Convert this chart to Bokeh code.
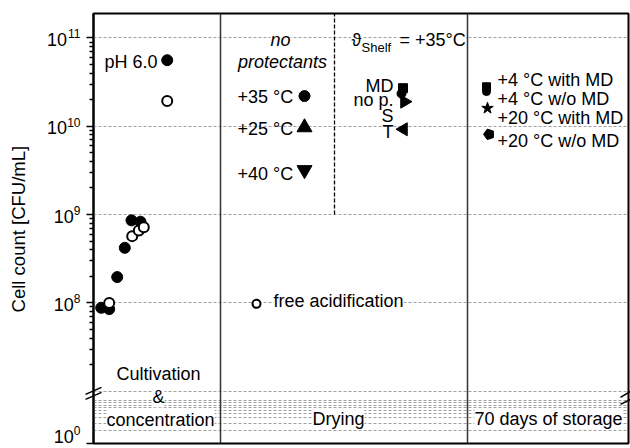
import numpy as np
from bokeh.plotting import figure
from bokeh.models import Range1d, FixedTicker, Label, Span, CustomJSTickFormatter
from bokeh.core.properties import value
from bokeh.embed import file_html
from bokeh.resources import INLINE

# ---------------- data (cell count, CFU/mL) ----------------
cult_x_filled = [7.7, 15.7, 23.7, 31.3, 38.0, 47.0]
cult_filled = [8.8e7, 8.5e7, 1.96e8, 4.2e8, 8.6e8, 8.3e8]
cult_x_open = [15.7, 38.7, 45.3, 50.3]
cult_open = [1.0e8, 5.7e8, 6.6e8, 7.2e8]
ph6_x = [73.7]
ph6_filled = [5.6e10]
ph6_open = [1.93e10]

dry_x = [211.0]
dry_35 = [2.2e10]
dry_25 = [9.7e9]
dry_40 = [3.2e9]
free_acid_x = [163.0]
free_acid = [9.75e7]

shelf_x_md = [309.5]
shelf_md = [2.7e10]
shelf_x_nop = [308.0]
shelf_nop = [2.34e10]
shelf_x_s = [311.0]
shelf_s = [1.9e10]
shelf_x_t = [310.0]
shelf_t = [9.25e9]

stor_x_4md = [393.0]
stor_4md = [2.8e10]
stor_x_4wo = [393.0]
stor_4wo = [2.47e10]
stor_x_20md = [394.0]
stor_20md = [1.6e10]
stor_x_20wo = [395.5]
stor_20wo = [8.1e9]

ytick_exps = [0, 8, 9, 10, 11]
y_title = "Cell count [CFU/mL]"
section_titles = ["Cultivation", "&", "concentration", "Drying", "70 days of storage"]
drying_labels = ["+35 °C", "+25 °C", "+40 °C"]
shelf_labels = ["MD", "no p.", "S", "T"]
storage_labels = ["+4 °C with MD", "+4 °C w/o MD", "+20 °C with MD", "+20 °C w/o MD"]

# ---------------- broken log axis transform ----------------
DEC_LOW = 42.5 / 88.1      # height of compressed lower decade (in upper-decade units)
T_ONE = 6.890              # position of 10^1 in the lower segment
T0 = T_ONE - DEC_LOW       # position of 10^0
T_TOP = 11.277


def ty(v):
    l = np.log10(np.asarray(v, dtype=float))
    return np.where(l >= 7, l, T_ONE - (1 - l) * DEC_LOW)


FONT = "Liberation Sans"

p = figure(width=630, height=448, output_backend="svg", toolbar_location=None,
           x_range=Range1d(0, 535), y_range=Range1d(T0, T_TOP),
           x_axis_location=None, y_axis_location="left",
           min_border_left=93, min_border_right=2, min_border_top=13, min_border_bottom=5)
p.background_fill_color = "white"
p.border_fill_color = "white"
p.outline_line_color = "black"
p.outline_line_width = 2

# y axis ticks
major_t = [float(ty(10.0 ** e)) for e in ytick_exps]
minor_t = [float(ty(k * 10.0 ** d)) for d in range(7, 11) for k in range(2, 10)]
minor_t = [m for m in minor_t if m < T_TOP]
ax = p.yaxis[0]
ax.ticker = FixedTicker(ticks=major_t, minor_ticks=minor_t)
ax.formatter = CustomJSTickFormatter(code="return ''")
ax.axis_line_width = 2
ax.axis_line_color = "black"
ax.major_tick_in = 0
ax.major_tick_out = 7
ax.minor_tick_in = 0
ax.minor_tick_out = 4
ax.major_tick_line_width = 1.5
ax.minor_tick_line_width = 1.5
ax.major_tick_line_color = "black"
ax.minor_tick_line_color = "black"

# grid
grid_t = [float(ty(10.0 ** d)) for d in range(7, 12)] + \
         [float(ty(k * 10.0 ** d)) for d in range(0, 1) for k in range(1, 11)]
p.xgrid.visible = False
p.ygrid.ticker = FixedTicker(ticks=grid_t)
p.ygrid.grid_line_color = "#a0a0a0"
p.ygrid.grid_line_dash = "3 2"
p.ygrid.grid_line_width = 1

# section separators
for xs in [127, 374]:
    p.add_layout(Span(location=xs, dimension="height", line_color="#333333", line_width=1.5))
p.segment(x0=[241], y0=[9.0], x1=[241], y1=[T_TOP], line_color="black", line_width=1.3,
          line_dash="4 2")

# break marks (drawn un-clipped)
def brk(xa, ya, xb, yb):
    r = p.segment(x0=xa, y0=ya, x1=xb, y1=yb, line_color="black", line_width=1.5)
    r.level = "overlay"

brk([-8, -8], [6.964, 6.907], [8, 8], [7.043, 6.986])
brk([527, 527], [6.930, 6.850], [537, 537], [6.998, 6.907])

# ---------------- marks ----------------
p.scatter(cult_x_filled, ty(cult_filled), marker="circle", size=11, color="black")
p.scatter(cult_x_open, ty(cult_open), marker="circle", size=10, fill_color="white",
          line_color="black", line_width=2)
p.scatter(ph6_x, ty(ph6_filled), marker="circle", size=11, color="black")
p.scatter(ph6_x, ty(ph6_open), marker="circle", size=10, fill_color="white",
          line_color="black", line_width=2)

p.scatter(dry_x, ty(dry_35), marker="circle", size=11, color="black")
p.scatter(dry_x, ty(dry_25), marker="triangle", size=15, color="black")
p.scatter(dry_x, ty(dry_40), marker="inverted_triangle", size=15, color="black")
p.scatter(free_acid_x, ty(free_acid), marker="circle", size=8, fill_color="white",
          line_color="black", line_width=2)

p.scatter(shelf_x_nop, ty(shelf_nop), marker="circle", size=9, color="black")
p.scatter(shelf_x_md, ty(shelf_md), marker="square", size=9, color="black")
p.scatter(shelf_x_s, ty(shelf_s), marker="triangle", size=13, angle=-np.pi / 2, color="black")
p.scatter(shelf_x_t, ty(shelf_t), marker="triangle", size=13, angle=np.pi / 2, color="black")

p.scatter(stor_x_4wo, ty(stor_4wo), marker="circle", size=8, color="black")
p.scatter(stor_x_4md, ty(stor_4md), marker="square", size=8, color="black")
p.scatter(stor_x_20md, ty(stor_20md), marker="star", size=12, color="black")
try:
    p.ngon(x=stor_x_20wo, y=ty(stor_20wo), radius=5.5, radius_units="screen", n=5,
           angle=np.pi / 2, fill_color="black", line_color="black")
except Exception:
    p.scatter(stor_x_20wo, ty(stor_20wo), marker="hex", size=11, color="black")

# ---------------- texts ----------------
def lab(x, y, text, size=18, align="left", style="normal", bg=None, xo=0, yo=0, angle=0):
    l = Label(x=x, y=y, text=text, text_font=FONT, text_font_size=f"{size}px",
              text_align=align, text_baseline="middle", text_font_style=style,
              text_color="black", x_offset=xo, y_offset=yo, angle=angle)
    if bg:
        l.background_fill_color = bg
    p.add_layout(l)


def outside_text(x, y, text, size=18, align="right", xo=0, yo=0, angle=0):
    # text glyph outside the frame, at overlay level so that it is not clipped
    r = p.text(x=x, y=y, text=text, text_font=value(FONT), text_font_size=f"{size}px",
               text_align=align, text_baseline="middle", text_color="black",
               x_offset=xo, y_offset=yo, angle=angle)
    r.level = "overlay"


# y tick labels
for e, t in zip(ytick_exps, major_t):
    es = str(e)
    yo_extra = -9 if e == 0 else 0
    outside_text([-13], [t], [es], size=12, yo=-4 + yo_extra)
    outside_text([-13], [t], ["10"], size=18, xo=-6.7 * len(es), yo=1.5 + yo_extra)

# axis title
outside_text([-75], [8.835], [y_title], size=18.5, align="center", angle=np.pi / 2)

# section titles
lab(65, 7.191, section_titles[0], align="center")
lab(65, 6.930, section_titles[1], align="center", bg="white")
lab(67, 6.674, section_titles[2], align="center", bg="white")
lab(245, 6.680, section_titles[3], align="center", bg="white")
lab(455, 6.680, section_titles[4], align="center", bg="white")

# cultivation
lab(64, 10.732, "pH 6.0", align="right")

# drying
lab(187, 10.982, "no", align="center", style="italic", bg="white")
lab(189, 10.732, "protectants", align="center", style="italic")
for txt, t in zip(drying_labels, [10.327, 9.972, 9.461]):
    lab(144, t, txt)
lab(180, 8.019, "free acidification", bg="white")

# shelf
lab(258, 10.982, "ϑ", bg="white")
lab(268, 10.891, "Shelf", size=13, bg="white")
lab(306, 10.982, "= +35°C", bg="white")
for txt, t in zip(shelf_labels, [10.460, 10.301, 10.119, 9.930]):
    lab(300, t, txt, align="right")

# storage
for txt, t in zip(storage_labels, [10.528, 10.312, 10.096, 9.835]):
    lab(404, t, txt)

open("out.html", "w").write(file_html(p, INLINE))
